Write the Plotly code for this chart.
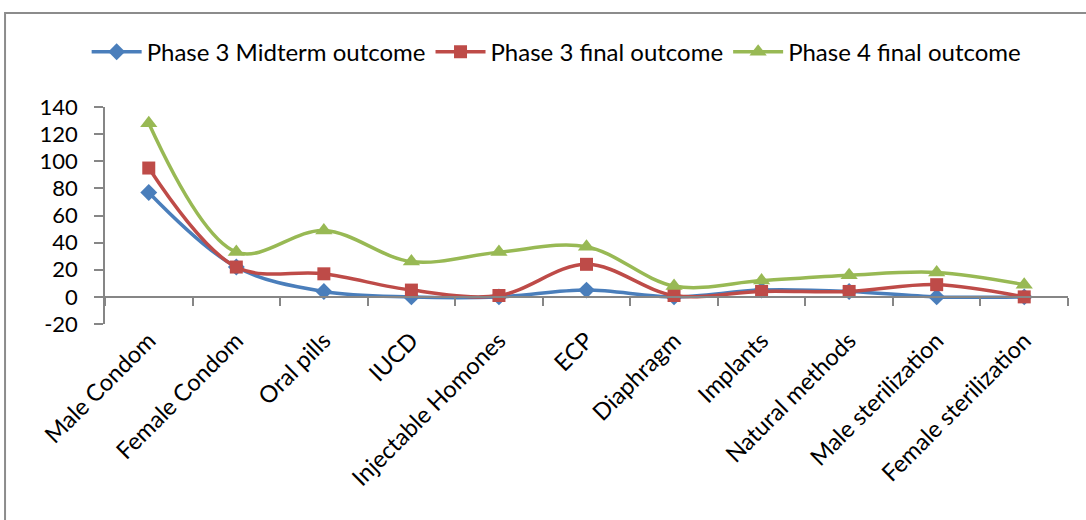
import plotly.graph_objects as go

categories = ["Male Condom", "Female Condom", "Oral pills", "IUCD", "Injectable Homones",
              "ECP", "Diaphragm", "Implants", "Natural methods", "Male sterilization",
              "Female sterilization"]
phase3_midterm = [77, 22, 4, 0, 0, 5, 0, 5, 4, 0, 0]
phase3_final = [95, 22, 17, 5, 1, 24, 1, 4, 4, 9, 0]
phase4_final = [128, 33, 49, 26, 33, 37, 8, 12, 16, 18, 9]
y_ticks = [-20, 0, 20, 40, 60, 80, 100, 120, 140]
y_tick_text = ["-20", "0", "20", "40", "60", "80", "100", "120", "140"]

FONT = "Lato"
AXIS_GRAY = "#868686"

series = [
    ("Phase 3 Midterm outcome", phase3_midterm, "#4A7EBB", "diamond", 13),
    ("Phase 3 final outcome", phase3_final, "#BE4B48", "square", 13),
    ("Phase 4 final outcome", phase4_final, "#98B954", "triangle-up", 15),
]

fig = go.Figure()
for name, vals, color, symbol, size in series:
    fig.add_trace(go.Scatter(
        x=categories, y=vals, name=name, mode="lines+markers",
        line=dict(color=color, width=3.5, shape="spline", smoothing=1.0),
        marker=dict(symbol=symbol, size=size, color=color),
    ))

y_min, y_max = y_ticks[0], y_ticks[-1]
zero_pos = (0 - y_min) / (y_max - y_min)

fig.update_layout(
    width=1086, height=520,
    margin=dict(l=105, r=18, t=107, b=196),
    paper_bgcolor="white", plot_bgcolor="white",
    font=dict(family=FONT, size=22, color="black"),
    showlegend=True,
    legend=dict(orientation="h", x=0.469, xanchor="center", y=1.253, yanchor="middle",
                font=dict(family=FONT, size=24, color="black"),
                itemwidth=50, tracegroupgap=0, bgcolor="rgba(0,0,0,0)"),
    xaxis=dict(
        type="category", categoryorder="array", categoryarray=categories,
        range=[-0.5, len(categories) - 0.5],
        anchor="free", position=zero_pos,
        showline=True, linecolor=AXIS_GRAY, linewidth=1.5,
        ticks="outside", tickson="boundaries", ticklen=8, tickcolor=AXIS_GRAY, tickwidth=1.5,
        showgrid=False, zeroline=False,
        tickangle=-45, ticklabelstandoff=20,
        tickfont=dict(family=FONT, size=23.5, color="black"),
    ),
    yaxis=dict(
        range=[y_min, y_max], tickvals=y_ticks, ticktext=y_tick_text,
        showline=True, linecolor=AXIS_GRAY, linewidth=1.5,
        ticks="outside", ticklen=9, tickcolor=AXIS_GRAY, tickwidth=1.5,
        showgrid=False, zeroline=False, ticklabelstandoff=12,
        tickfont=dict(family=FONT, size=22, color="black"),
    ),
    shapes=[dict(type="rect", xref="paper", yref="paper",
                 x0=-0.1038, x1=1.04, y0=-1.0, y1=1.433,
                 line=dict(color="#8C8C8C", width=2), fillcolor="rgba(0,0,0,0)", layer="below")],
)

fig.write_html("out.html")
